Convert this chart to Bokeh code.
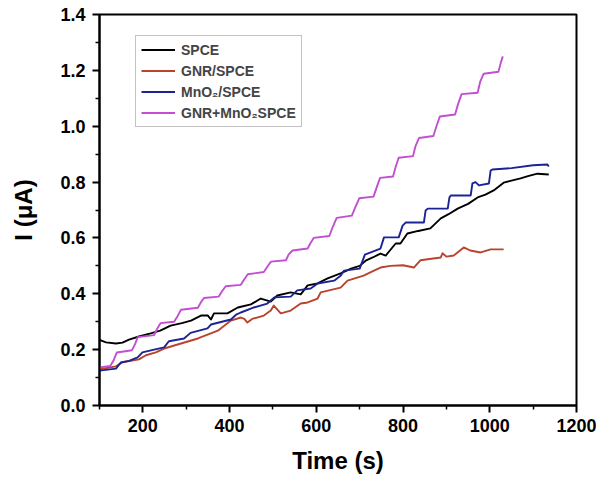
from bokeh.plotting import figure
from bokeh.models import FixedTicker, Range1d, Legend, LegendItem, PrintfTickFormatter
from bokeh.embed import file_html
from bokeh.resources import INLINE

# ---- data ----
spce_t = [100, 115, 138, 153, 168, 191, 218, 240, 264, 290, 311, 334, 350, 357, 364, 395, 419, 449, 472, 495,
          510, 541, 564, 580, 603, 626, 656, 680, 700, 715, 730, 748, 760, 783, 794, 810, 835, 863, 887, 905, 926,
          950, 972, 990, 1009, 1032, 1050, 1071, 1090, 1110, 1136]
spce_i = [0.235, 0.226, 0.222, 0.225, 0.236, 0.247, 0.258, 0.268, 0.286, 0.295, 0.304, 0.322, 0.322, 0.308, 0.330,
          0.330, 0.351, 0.362, 0.383, 0.372, 0.394, 0.405, 0.398, 0.430, 0.437, 0.455, 0.473, 0.490, 0.500, 0.520,
          0.530, 0.544, 0.537, 0.580, 0.580, 0.616, 0.625, 0.634, 0.670, 0.685, 0.705, 0.722, 0.745, 0.755, 0.770,
          0.798, 0.805, 0.813, 0.822, 0.830, 0.827]

gnr_t = [100, 138, 153, 191, 207, 230, 249, 288, 327, 373, 403, 426, 434, 441, 452, 479, 495, 502, 518, 541, 564,
         580, 603, 610, 656, 672, 709, 733, 748, 771, 800, 825, 840, 887, 891, 900, 917, 940, 955, 979, 1002, 1032]
gnr_i = [0.130, 0.140, 0.155, 0.165, 0.180, 0.190, 0.204, 0.222, 0.240, 0.268, 0.304, 0.315, 0.310, 0.297, 0.310,
         0.322, 0.340, 0.358, 0.330, 0.340, 0.365, 0.369, 0.383, 0.405, 0.422, 0.447, 0.465, 0.483, 0.494, 0.500,
         0.502, 0.494, 0.520, 0.530, 0.545, 0.533, 0.537, 0.566, 0.555, 0.548, 0.559, 0.559]

mno2_t = [100, 138, 149, 168, 188, 199, 226, 249, 260, 295, 310, 349, 357, 403, 415, 426, 449, 456, 487, 503, 541,
          556, 587, 603, 641, 656, 664, 700, 712, 748, 756, 790, 799, 806, 848, 852, 857, 903, 907, 910, 956, 960,
          967, 975, 998, 1002, 1006, 1050, 1100, 1133, 1136]
mno2_i = [0.125, 0.132, 0.154, 0.160, 0.172, 0.190, 0.200, 0.208, 0.230, 0.240, 0.260, 0.276, 0.290, 0.308, 0.325,
          0.333, 0.347, 0.351, 0.365, 0.387, 0.390, 0.412, 0.419, 0.437, 0.447, 0.465, 0.483, 0.490, 0.540, 0.562,
          0.602, 0.602, 0.644, 0.655, 0.655, 0.698, 0.705, 0.705, 0.745, 0.752, 0.752, 0.795, 0.800, 0.788, 0.795,
          0.841, 0.845, 0.850, 0.860, 0.863, 0.856]

mix_t = [100, 125, 132, 140, 175, 182, 188, 226, 233, 241, 272, 280, 288, 327, 334, 341, 375, 383, 391, 426, 434,
         442, 479, 487, 495, 530, 536, 545, 580, 586, 594, 630, 638, 647, 682, 690, 699, 732, 739, 747, 777, 783,
         790, 823, 829, 837, 870, 877, 885, 920, 927, 935, 972, 978, 986, 1020, 1025, 1030]
mix_i = [0.136, 0.142, 0.160, 0.190, 0.198, 0.220, 0.245, 0.252, 0.275, 0.295, 0.300, 0.320, 0.343, 0.350, 0.370,
         0.385, 0.390, 0.410, 0.427, 0.432, 0.452, 0.470, 0.478, 0.497, 0.515, 0.520, 0.540, 0.555, 0.562, 0.580,
         0.600, 0.607, 0.640, 0.672, 0.680, 0.710, 0.742, 0.748, 0.780, 0.815, 0.820, 0.855, 0.887, 0.893, 0.930,
         0.958, 0.965, 1.000, 1.035, 1.042, 1.080, 1.115, 1.120, 1.160, 1.188, 1.195, 1.225, 1.250]

series_names = ["SPCE", "GNR/SPCE", "MnO\u2082/SPCE", "GNR+MnO\u2082SPCE"]
series_colors = ["#000000", "#b8442e", "#1c2393", "#c24fd2"]

x_major = [200, 400, 600, 800, 1000, 1200]
x_minor = [100, 300, 500, 700, 900, 1100]
y_major = [0.0, 0.2, 0.4, 0.6, 0.8, 1.0, 1.2, 1.4]
y_minor = [0.1, 0.3, 0.5, 0.7, 0.9, 1.1, 1.3]

FONT = "Liberation Sans"

p = figure(width=596, height=476, output_backend="svg", toolbar_location=None,
           x_range=Range1d(100, 1200), y_range=Range1d(0, 1.4),
           min_border_left=99, min_border_right=20, min_border_top=14, min_border_bottom=71)
p.xgrid.visible = False
p.ygrid.visible = False
p.outline_line_color = "black"
p.outline_line_width = 2
p.background_fill_color = "white"
p.border_fill_color = "white"

renderers = []
for t, i, c in zip([spce_t, gnr_t, mno2_t, mix_t], [spce_i, gnr_i, mno2_i, mix_i], series_colors):
    r = p.line(t, i, line_color=c, line_width=1.9, line_join="round")
    renderers.append(r)

for ax in (p.xaxis[0], p.yaxis[0]):
    ax.axis_line_width = 2
    ax.major_tick_line_width = 2
    ax.minor_tick_line_width = 1.5
    ax.major_tick_out = 7
    ax.major_tick_in = 0
    ax.minor_tick_out = 4
    ax.minor_tick_in = 0
    ax.major_label_text_font = FONT
    ax.major_label_text_font_style = "bold"
    ax.major_label_text_font_size = "18px"
    ax.major_label_text_color = "black"
    ax.axis_label_text_font = FONT
    ax.axis_label_text_font_style = "bold"
    ax.axis_label_text_font_size = "24px"
    ax.axis_label_text_color = "black"

p.xaxis[0].ticker = FixedTicker(ticks=x_major, minor_ticks=x_minor)
p.yaxis[0].ticker = FixedTicker(ticks=y_major, minor_ticks=y_minor)
p.yaxis[0].formatter = PrintfTickFormatter(format="%.1f")
p.xaxis[0].axis_label = "Time (s)"
p.yaxis[0].axis_label = "I (\u03bcA)"
p.xaxis[0].major_label_standoff = 6
p.yaxis[0].major_label_standoff = 7
p.xaxis[0].axis_label_standoff = 12
p.yaxis[0].axis_label_standoff = 20

legend = Legend(items=[LegendItem(label=n, renderers=[r]) for n, r in zip(series_names, renderers)],
                location=(36, 278))
legend.label_text_font = FONT
legend.label_text_font_style = "bold"
legend.label_text_font_size = "14px"
legend.label_standoff = 6
legend.glyph_width = 34
legend.glyph_height = 17
legend.spacing = 4
legend.padding = 5
legend.margin = 0
legend.border_line_color = "#888888"
legend.border_line_width = 1
legend.background_fill_alpha = 1
p.add_layout(legend, "center")

open("out.html", "w").write(file_html(p, INLINE))
